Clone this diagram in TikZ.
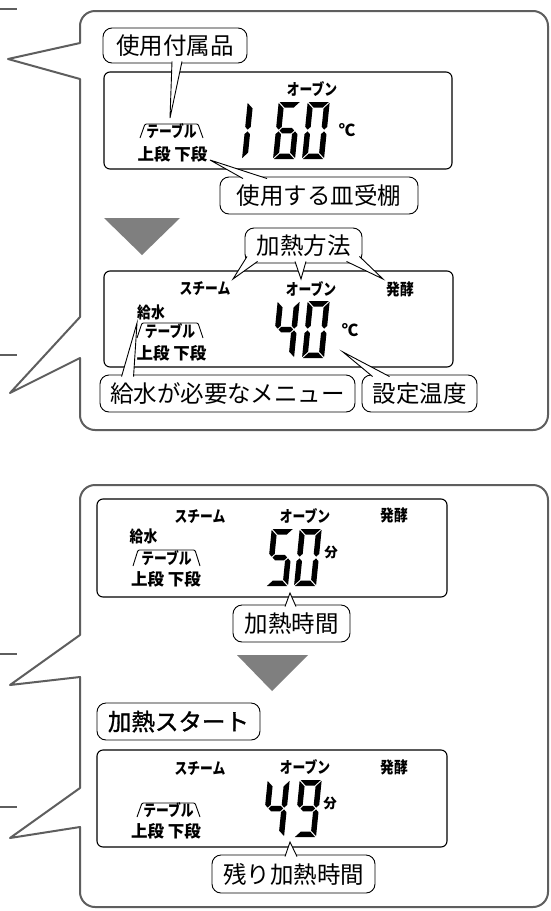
\documentclass[tikz,border=0pt]{standalone}
\usepackage{fontspec}
\usepackage{graphicx}
\setmainfont{Noto Sans CJK JP}
\newfontfamily\medjp[FakeBold=1.3]{Noto Sans CJK JP}
\usetikzlibrary{calc}
\definecolor{panelgray}{HTML}{5E5E5E}
\definecolor{trigray}{HTML}{7F7F7F}
\newcommand\segA{\fill (0.9,57) -- (21.1,57) -- (15.6,51.5) -- (6.4,51.5) -- cycle;}
\newcommand\segB{\fill (22,56.1) -- (22,32.15) -- (19.25,29.4) -- (16.5,32.15) -- (16.5,50.6) -- cycle;}
\newcommand\segC{\fill (22,0.9) -- (22,24.85) -- (19.25,27.6) -- (16.5,24.85) -- (16.5,6.4) -- cycle;}
\newcommand\segD{\fill (0.9,0) -- (21.1,0) -- (15.6,5.5) -- (6.4,5.5) -- cycle;}
\newcommand\segE{\fill (0,0.9) -- (0,24.85) -- (2.75,27.6) -- (5.5,24.85) -- (5.5,6.4) -- cycle;}
\newcommand\segF{\fill (0,56.1) -- (0,32.15) -- (2.75,29.4) -- (5.5,32.15) -- (5.5,50.6) -- cycle;}
\newcommand\segG{\fill (3.65,28.5) -- (6.4,31.25) -- (15.6,31.25) -- (18.35,28.5) -- (15.6,25.75) -- (6.4,25.75) -- cycle;}
\newcommand\lcddigit[3]{\begin{scope}[shift={(#1,#2)},yscale=-1,xslant=-0.1]#3\end{scope}}
\newcommand\kata[1]{\scalebox{0.8}[1]{#1}}
\newcommand\kanj[1]{\scalebox{0.86}[1]{#1}}
\begin{document}
\begin{tikzpicture}[x=1pt,y=-1pt,
  panel/.style={draw=panelgray, line width=2pt, line join=round},
  lcd/.style={draw=black, line width=1.1pt, rounded corners=6pt},
  lbl/.style={draw=black, line width=0.9pt, rounded corners=9pt, fill=white, inner sep=0pt,
    font=\fontsize{23.5}{26}\selectfont, text=black},
  tail/.style={draw=black, fill=white, line width=0.9pt, line join=miter},
  lt/.style={inner sep=0pt, font=\fontsize{16}{17}\selectfont\bfseries},
  ltw/.style={inner sep=0pt, font=\fontsize{16.5}{17}\selectfont\bfseries},
  trap/.style={draw=black, line width=0.9pt, rounded corners=1.2pt},
]
\useasboundingbox (0,0) rectangle (550,911);
\fill[white] (0,0) rectangle (550,911);

% outer panels with callout notches
\draw[panel] (80,43) -- (80,30) [rounded corners=15pt] -- (80,11) -- (548,11) -- (548,430) -- (80,430) -- (80,400) [sharp corners] -- (80,358) -- (10,393) -- (80,317) -- (80,79) -- (8,59) -- cycle;
\draw[panel] (80,635) -- (80,600) [rounded corners=15pt] -- (80,485) -- (548,485) -- (548,907) -- (80,907) -- (80,870) [sharp corners] -- (80,827) -- (10,838) -- (80,788) -- (80,677) -- (10,685) -- cycle;
\draw[panel] (0,9) -- (17,9);
\draw[panel] (0,355) -- (17,355);
\draw[panel] (0,654) -- (17,654);
\draw[panel] (0,807) -- (17,807);

% gray arrows
\fill[trigray] (104,218) -- (180,218) -- (142,255) -- cycle;
\fill[trigray] (237,655) -- (308,655) -- (272,691) -- cycle;

% ===== display 1 =====
\draw[lcd] (104,72) rectangle (452,169);
\node[lt] (d1ov) at (312,89) {\kata{オーブン}};
\draw[trap] (140,138) -- (145,124) -- (198,124) -- (203,138);
\node[lt] (d1tb) at (171.5,131.5) {\kata{テーブル}};
\node[ltw] (d1dan) at (172.5,154.5) {上段 下段};
\node[ltw] (d1c) at (347,130.5) {℃};
\lcddigit{242}{159}{\segE\segF}
\lcddigit{273}{159}{\segA\segF\segG\segE\segC\segD}
\lcddigit{302}{159}{\segA\segB\segC\segD\segE\segF}

% ===== display 2 =====
\draw[lcd] (104,271) rectangle (453,367);
\node[lt] (d2st) at (205,289) {\kata{スチーム}};
\node[lt] (d2ov) at (311,289) {\kata{オーブン}};
\node[lt] (d2hk) at (400,289) {\kanj{発酵}};
\node[lt] (d2kn) at (151,312.5) {\kanj{給水}};
\draw[trap] (137,338) -- (142,323) -- (198,323) -- (203,338);
\node[lt] (d2tb) at (170,331) {\kata{テーブル}};
\node[ltw] (d2dan) at (171.5,353) {上段 下段};
\node[ltw] (d2c) at (350,330.5) {℃};
\lcddigit{272}{358}{\segF\segG\segB\segC}
\lcddigit{302}{358}{\segA\segB\segC\segD\segE\segF}

% ===== display 3 =====
\draw[lcd] (97,499) rectangle (447,597);
\node[lt] (d3st) at (200,516.5) {\kata{スチーム}};
\node[lt] (d3ov) at (305,516) {\kata{オーブン}};
\node[lt] (d3hk) at (394,515.5) {\kanj{発酵}};
\node[lt] (d3kn) at (143.5,536.5) {\kanj{給水}};
\draw[trap] (133,566) -- (138,550) -- (195,550) -- (200,566);
\node[lt] (d3tb) at (166.5,558.5) {\kata{テーブル}};
\node[ltw] (d3dan) at (166,579.5) {上段 下段};
\node[lt] (d3m) at (331,552) {\fontsize{13.5}{14}\selectfont 分};
\lcddigit{266}{586}{\segA\segF\segG\segC\segD}
\lcddigit{294}{586}{\segA\segB\segC\segD\segE\segF}

% ===== display 4 =====
\draw[lcd] (97,750) rectangle (447,847);
\node[lt] (d4st) at (200,768.5) {\kata{スチーム}};
\node[lt] (d4ov) at (305,767.5) {\kata{オーブン}};
\node[lt] (d4hk) at (394,767.5) {\kanj{発酵}};
\draw[trap] (137,817) -- (142,803) -- (195,803) -- (200,817);
\node[lt] (d4tb) at (168.5,810) {\kata{テーブル}};
\node[ltw] (d4dan) at (166,831) {上段 下段};
\node[lt] (d4m) at (330,803) {\fontsize{13.5}{14}\selectfont 分};
\lcddigit{262}{837}{\segF\segG\segB\segC}
\lcddigit{294}{837}{\segA\segB\segC\segD\segF\segG}

% ===== labels =====
\node[lbl, minimum width=144pt, minimum height=35pt] (L1) at (175,45.5) {使用付属品};
\node[lbl, minimum width=198pt, minimum height=37pt] (L2) at (319,195.5) {使用する皿受棚};
\node[lbl, minimum width=117pt, minimum height=35pt] (L3) at (303.5,245.5) {加熱方法};
\node[lbl, minimum width=255pt, minimum height=37pt] (L4) at (227.5,393.5) {給水が必要なメニュー};
\node[lbl, minimum width=115pt, minimum height=37pt] (L5) at (419.5,393.5) {設定温度};
\node[lbl, minimum width=117pt, minimum height=37pt] (L6) at (291.5,623.5) {加熱時間};
\node[lbl, minimum width=163pt, minimum height=37pt, font=\fontsize{23.5}{26}\medjp] (L7) at (178.5,721.5) {加熱スタート};
\node[lbl, minimum width=163pt, minimum height=38pt] (L8) at (293.5,874) {残り加熱時間};

% ===== tails =====
\coordinate (t1) at (170,118);
\coordinate (t2) at (210,160);
\coordinate (t3a) at (233,279);
\coordinate (t3b) at (301,279);
\coordinate (t3c) at (383,279);
\coordinate (t4) at (137,323);
\coordinate (t5) at (343,352);
\coordinate (t6) at (290,593);
\coordinate (t8) at (290,842);
\filldraw[tail] ($(L1.south)+(-3,-2)$) -- (t1) -- ($(L1.south)+(7,-2)$);
\filldraw[tail] ($(L2.north)+(-76,2)$) -- (t2) -- ($(L2.north)+(-52,2)$);
\filldraw[tail] ($(L3.south west)+(2.5,-7)$) -- (t3a) -- ($(L3.south west)+(13,-2)$);
\filldraw[tail] ($(L3.south)+(-8.5,-2)$) -- (t3b) -- ($(L3.south)+(2.5,-2)$);
\filldraw[tail] ($(L3.south east)+(-16,-2)$) -- (t3c) -- ($(L3.south east)+(-3,-7)$);
\filldraw[tail] ($(L4.north west)+(22,2)$) -- (t4) -- ($(L4.north west)+(34,2)$);
\filldraw[tail] ($(L5.north west)+(11,2)$) -- (t5) -- ($(L5.north west)+(28,2)$);
\filldraw[tail] ($(L6.north)+(-6.5,2)$) -- (t6) -- ($(L6.north)+(4.5,2)$);
\filldraw[tail] ($(L8.north)+(-8.5,2)$) -- (t8) -- ($(L8.north)+(3.5,2)$);
\end{tikzpicture}
\end{document}
